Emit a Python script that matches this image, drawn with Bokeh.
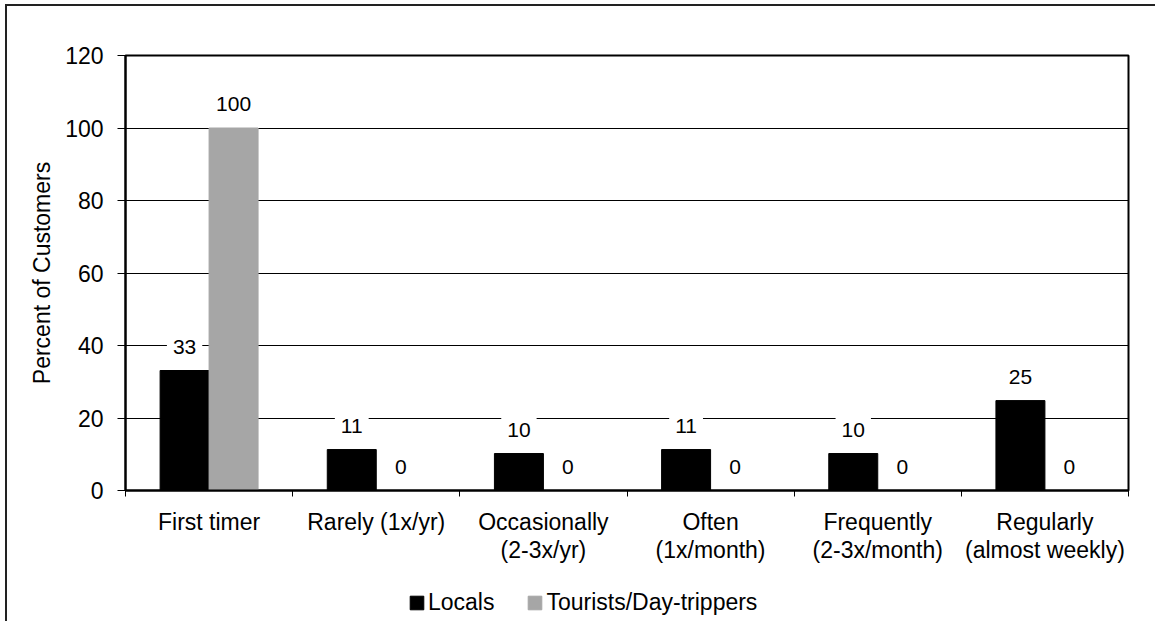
import numpy as np
from bokeh.plotting import figure
from bokeh.layouts import column
from bokeh.models import ColumnDataSource, FixedTicker, Range1d, Legend, LegendItem
from bokeh.core.properties import value
from bokeh.embed import file_html
from bokeh.resources import INLINE

# ---- data ----
categories = ["First timer", "Rarely (1x/yr)", "Occasionally\n(2-3x/yr)", "Often\n(1x/month)",
              "Frequently\n(2-3x/month)", "Regularly\n(almost weekly)"]
locals_pct = [33.1, 11.3, 10.2, 11.3, 10.2, 24.8]
tourists_pct = [100, 0, 0, 0, 0, 0]
series_names = ["Locals", "Tourists/Day-trippers"]
series_colors = ["#000000", "#A6A6A6"]
y_ticks = [0, 20, 40, 60, 80, 100, 120]
y_title = "Percent of Customers"

FONT = "Liberation Sans"
FS = "23px"
FS_LBL = "21px"

n = len(categories)
centers = np.arange(n) + 0.5
bar_w = 0.293
offs = 0.1465

p = figure(width=1150, height=569, output_backend="svg", toolbar_location=None,
           x_range=Range1d(0, n), y_range=Range1d(y_ticks[0], y_ticks[-1]),
           min_border_left=118, min_border_top=49, min_border_right=29, min_border_bottom=85)
p.styles = {"border-top": "2px solid #222", "border-left": "2px solid #222",
            "margin-top": "4px", "margin-left": "5px"}

p.background_fill_color = "white"
p.border_fill_color = "white"
p.outline_line_color = "black"
p.outline_line_width = 2

src = ColumnDataSource(dict(
    x_loc=centers - offs, x_tour=centers + offs,
    loc=locals_pct, tour=tourists_pct,
    loc_lbl=["%.0f" % v for v in locals_pct],
    tour_lbl=["%.0f" % v for v in tourists_pct],
))

r1 = p.vbar(x="x_loc", top="loc", width=bar_w, bottom=0, source=src,
            fill_color=series_colors[0], line_color=series_colors[0])
r2 = p.vbar(x="x_tour", top="tour", width=bar_w, bottom=0, source=src,
            fill_color=series_colors[1], line_color=series_colors[1])

for xcol, ycol, tcol in (("x_loc", "loc", "loc_lbl"), ("x_tour", "tour", "tour_lbl")):
    p.text(x=xcol, y=ycol, text=tcol, source=src,
           text_font=value(FONT), text_font_size=value(FS_LBL), text_color="black",
           text_align="center", text_baseline="alphabetic", y_offset=-24,
           background_fill_color="white", padding=6)

# grid
p.xgrid.visible = False
p.ygrid.ticker = FixedTicker(ticks=y_ticks)
p.ygrid.grid_line_color = "black"
p.ygrid.grid_line_width = 1

# y axis
ya = p.yaxis[0]
ya.ticker = FixedTicker(ticks=y_ticks)
ya.axis_line_width = 2
ya.axis_line_color = "black"
ya.major_tick_out = 8
ya.major_tick_in = 0
ya.major_tick_line_color = "black"
ya.minor_tick_line_color = None
ya.major_label_standoff = 14
ya.major_label_text_font = FONT
ya.major_label_text_font_size = FS
ya.major_label_text_color = "black"
ya.axis_label = y_title
ya.axis_label_text_font = FONT
ya.axis_label_text_font_size = FS
ya.axis_label_text_font_style = "normal"
ya.axis_label_text_color = "black"
ya.axis_label_standoff = 7

# x axis: labels at centers, ticks at boundaries (minor)
xa = p.xaxis[0]
xa.ticker = FixedTicker(ticks=list(centers), minor_ticks=list(np.arange(n + 1)))
xa.major_label_overrides = {float(c): lab for c, lab in zip(centers, categories)}
xa.axis_line_width = 2
xa.axis_line_color = "black"
xa.major_tick_out = 0
xa.major_tick_in = 0
xa.major_tick_line_color = None
xa.minor_tick_out = 6
xa.minor_tick_in = 0
xa.minor_tick_line_color = "black"
xa.minor_tick_line_width = 1
xa.major_label_standoff = 12
xa.major_label_text_font = FONT
xa.major_label_text_font_size = FS
xa.major_label_text_line_height = 1.1
xa.major_label_text_color = "black"

# ---- legend strip below the chart (frame aligned with the chart's frame) ----
p2 = figure(width=1150, height=48, output_backend="svg", toolbar_location=None,
            x_range=Range1d(0, n), y_range=Range1d(0, 1),
            min_border_left=0, min_border_right=0, min_border_top=0, min_border_bottom=0)
p2.styles = {"border-left": "2px solid #222", "margin-left": "5px"}
p2.axis.visible = False
p2.grid.visible = False
p2.outline_line_color = None
p2.background_fill_color = "white"
p2.border_fill_color = "white"
g1 = p2.vbar(x="x_loc", top="loc", width=bar_w, bottom=0, source=src,
             fill_color=series_colors[0], line_color=series_colors[0], visible=False)
g2 = p2.vbar(x="x_tour", top="tour", width=bar_w, bottom=0, source=src,
             fill_color=series_colors[1], line_color=series_colors[1], visible=False)

legend = Legend(items=[LegendItem(label=series_names[0], renderers=[g1]),
                       LegendItem(label=series_names[1], renderers=[g2])],
                orientation="horizontal", location=(283, 5),
                glyph_width=17, glyph_height=17, label_standoff=3, spacing=32,
                padding=0, margin=0, border_line_color=None, background_fill_alpha=0,
                inactive_fill_alpha=0,
                label_text_font=FONT, label_text_font_size=FS, label_text_color="black")
p2.add_layout(legend, "center")

layout = column(p, p2, spacing=0)
open("out.html", "w").write(file_html(layout, INLINE))
